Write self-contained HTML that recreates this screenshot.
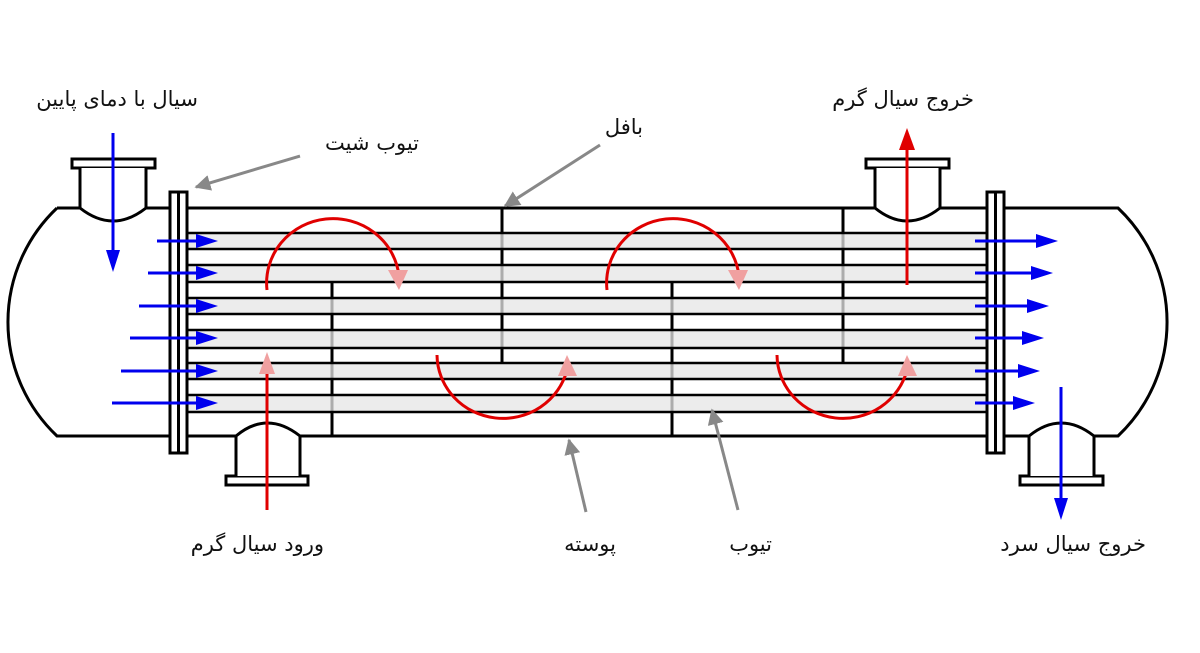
<!DOCTYPE html>
<html><head><meta charset="utf-8"><style>
html,body{margin:0;padding:0;background:#fff;}
svg{display:block}
text{font-family:"DejaVu Sans","Noto Sans CJK SC",sans-serif;font-size:21px;fill:#111;direction:rtl;}
</style></head><body>
<svg width="1200" height="653" viewBox="0 0 1200 653" xmlns="http://www.w3.org/2000/svg">
<defs>
<marker id="gr" viewBox="0 0 10 10" refX="9" refY="5" markerWidth="16" markerHeight="16" orient="auto" markerUnits="userSpaceOnUse"><path d="M0,0 L10,5 L0,10z" fill="#888"/></marker>
</defs>
<g stroke="#000" stroke-width="3" fill="none">
<path d="M57,208 L170,208 M187,208 L987,208 M1004,208 L1118,208 A157,157 0 0 1 1118,436 L1004,436 M987,436 L187,436 M170,436 L57,436 A157,157 0 0 1 57,208"/>
<rect x="72" y="159" width="83" height="9" fill="#fff"/>
<path d="M80,168 L80,208 Q113,234 146,208 L146,168" fill="#fff"/>
<rect x="866" y="159" width="83" height="9" fill="#fff"/>
<path d="M875,168 L875,208 Q907,234 940,208 L940,168" fill="#fff"/>
<rect x="226" y="476" width="82" height="9" fill="#fff"/>
<path d="M236,476 L236,436 Q267,410 300,436 L300,476" fill="#fff"/>
<rect x="1020" y="476" width="83" height="9" fill="#fff"/>
<path d="M1029,476 L1029,436 Q1061,410 1094,436 L1094,476" fill="#fff"/>
<path d="M332,282 V436 M502,208 V363 M672,282 V436 M843,208 V363"/>
</g>
<g fill="#e6e6e6" fill-opacity="0.75">
<rect x="187" y="233" width="800" height="16"/>
<rect x="187" y="265" width="800" height="17"/>
<rect x="187" y="298" width="800" height="16"/>
<rect x="187" y="330" width="800" height="18"/>
<rect x="187" y="363" width="800" height="16"/>
<rect x="187" y="395" width="800" height="17"/>
</g>
<g stroke="#000" stroke-width="2.5">
<path d="M187,233H987M187,249H987M187,265H987M187,282H987M187,298H987M187,314H987M187,330H987M187,348H987M187,363H987M187,379H987M187,395H987M187,412H987"/>
</g>
<g stroke="#000" stroke-width="3" fill="#fff">
<rect x="170" y="192" width="17" height="261"/>
<rect x="987" y="192" width="17" height="261"/>
<line x1="178.5" y1="192" x2="178.5" y2="453"/>
<line x1="995.5" y1="192" x2="995.5" y2="453"/>
</g>
<g stroke="#0000ee" stroke-width="3" fill="#0000ee">
<line x1="157" y1="241" x2="198" y2="241"/><path d="M196,234 L218,241 L196,248z" stroke="none"/>
<line x1="148" y1="273" x2="198" y2="273"/><path d="M196,266 L218,273 L196,280z" stroke="none"/>
<line x1="139" y1="306" x2="198" y2="306"/><path d="M196,299 L218,306 L196,313z" stroke="none"/>
<line x1="130" y1="338" x2="198" y2="338"/><path d="M196,331 L218,338 L196,345z" stroke="none"/>
<line x1="121" y1="371" x2="198" y2="371"/><path d="M196,364 L218,371 L196,378z" stroke="none"/>
<line x1="112" y1="403" x2="198" y2="403"/><path d="M196,396 L218,403 L196,410z" stroke="none"/>
<line x1="113" y1="133" x2="113" y2="252"/><path d="M106,250 L113,272 L120,250z" stroke="none"/>
<line x1="975" y1="241" x2="1038" y2="241"/><path d="M1036,234 L1058,241 L1036,248z" stroke="none"/>
<line x1="975" y1="273" x2="1033" y2="273"/><path d="M1031,266 L1053,273 L1031,280z" stroke="none"/>
<line x1="975" y1="306" x2="1029" y2="306"/><path d="M1027,299 L1049,306 L1027,313z" stroke="none"/>
<line x1="975" y1="338" x2="1024" y2="338"/><path d="M1022,331 L1044,338 L1022,345z" stroke="none"/>
<line x1="975" y1="371" x2="1020" y2="371"/><path d="M1018,364 L1040,371 L1018,378z" stroke="none"/>
<line x1="975" y1="403" x2="1015" y2="403"/><path d="M1013,396 L1035,403 L1013,410z" stroke="none"/>
<line x1="1061" y1="387" x2="1061" y2="500"/><path d="M1054,498 L1061,520 L1068,498z" stroke="none"/>
</g>
<g stroke="#e00000" stroke-width="3" fill="none">
<line x1="267" y1="510" x2="267" y2="372"/>
<line x1="907" y1="285" x2="907" y2="148"/>
<path d="M267,290 A66,64 0 0 1 399,276"/>
<path d="M437,355 A66,64 0 0 0 567,370"/>
<path d="M607,290 A66,64 0 0 1 739,276"/>
<path d="M777,355 A66,64 0 0 0 907,370"/>
</g>
<g fill="#f0a0a0"><path d="M259,374 L267,352 L275,374z"/><path d="M388,270 L399,290 L408,270z"/><path d="M558,376 L567,355 L577,376z"/><path d="M728,270 L739,290 L748,270z"/><path d="M898,376 L907,355 L917,376z"/></g>
<path d="M899,150 L907,128 L915,150z" fill="#e00000"/>
<g stroke="#888" stroke-width="3" marker-end="url(#gr)">
<line x1="300" y1="156" x2="196" y2="187"/>
<line x1="600" y1="145" x2="505" y2="206"/>
<line x1="586" y1="512" x2="569" y2="440"/>
<line x1="738" y1="510" x2="712" y2="410"/>
</g>
<text x="198" y="106">سیال با دمای پایین</text>
<text x="419" y="150">تیوب شیت</text>
<text x="643" y="134">بافل</text>
<text x="974" y="106">خروج سیال گرم</text>
<text x="324" y="551">ورود سیال گرم</text>
<text x="616" y="551">پوسته</text>
<text x="772" y="551">تیوب</text>
<text x="1146" y="551">خروج سیال سرد</text>
</svg>
</body></html>
